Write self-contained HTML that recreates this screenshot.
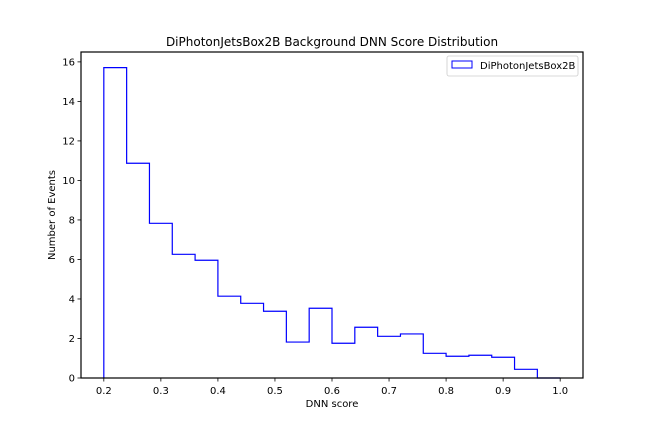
<!DOCTYPE html>
<html><head><meta charset="utf-8"><style>
body{margin:0;background:#fff;}
svg text{font-family:"DejaVu Sans","Liberation Sans",sans-serif;fill:#000;}
</style></head><body>
<svg id="chart" width="648" height="432" xmlns="http://www.w3.org/2000/svg">
<rect width="648" height="432" fill="#fff"/>
<text x="332" y="46" font-size="12" text-anchor="middle">DiPhotonJetsBox2B Background DNN Score Distribution</text>
<g id="plot"></g>
<rect x="81" y="52" width="502" height="326" fill="none" stroke="#000" stroke-width="1.2"/>
<text x="332" y="407" font-size="10" text-anchor="middle">DNN score</text>
<text transform="translate(55,215) rotate(-90)" font-size="10" text-anchor="middle">Number of Events</text>
<g>
<rect x="447" y="56" width="131" height="20" rx="2" fill="#fff" stroke="#ccc" stroke-width="0.8"/>
<rect x="452" y="61" width="20" height="7" fill="none" stroke="#0000ff" stroke-width="1"/>
<text x="480" y="69" font-size="10">DiPhotonJetsBox2B</text>
</g>
</svg>
<script>
const binEdges = [0.2,0.24,0.28,0.32,0.36,0.4,0.44,0.48,0.52,0.56,0.6,0.64,0.68,0.72,0.76,0.8,0.84,0.88,0.92,0.96,1.0];
const counts = [15.71,10.87,7.83,6.26,5.96,4.14,3.78,3.38,1.82,3.53,1.76,2.57,2.11,2.23,1.25,1.1,1.15,1.05,0.44,0];
const xTicks = [0.2,0.3,0.4,0.5,0.6,0.7,0.8,0.9,1.0];
const xTickLabels = ["0.2","0.3","0.4","0.5","0.6","0.7","0.8","0.9","1.0"];
const yTicks = [0,2,4,6,8,10,12,14,16];
const yTickLabels = ["0","2","4","6","8","10","12","14","16"];

const L=81,R=583,T=52,B=378;
const xmin=0.16,xmax=1.04,ymin=0,ymax=16.5;
const sx=v=>L+(v-xmin)/(xmax-xmin)*(R-L);
const sy=v=>B-(v-ymin)/(ymax-ymin)*(B-T);
const NS="http://www.w3.org/2000/svg";
const g=document.getElementById('plot');

let d="M"+sx(binEdges[0])+","+sy(0);
for(let i=0;i<counts.length;i++){
  d+=" L"+sx(binEdges[i])+","+sy(counts[i])+" L"+sx(binEdges[i+1])+","+sy(counts[i]);
}
d+=" L"+sx(binEdges[binEdges.length-1])+","+sy(0);
const p=document.createElementNS(NS,'path');
p.setAttribute('d',d);p.setAttribute('fill','none');p.setAttribute('stroke','#0000ff');p.setAttribute('stroke-width','1.2');


g.appendChild(p);

xTicks.forEach((v,i)=>{
  const x=sx(v);
  const t=document.createElementNS(NS,'line');
  t.setAttribute('x1',x);t.setAttribute('x2',x);t.setAttribute('y1',B);t.setAttribute('y2',B+3.5);t.setAttribute('stroke','#000');t.setAttribute('stroke-width','0.8');
  
  
  g.appendChild(t);
  const tx=document.createElementNS(NS,'text');
  tx.setAttribute('x',x);tx.setAttribute('y',B+16);tx.setAttribute('font-size','10');tx.setAttribute('text-anchor','middle');
  tx.textContent=xTickLabels[i];
  
  
  g.appendChild(tx);
});
yTicks.forEach((v,i)=>{
  const y=sy(v);
  const t=document.createElementNS(NS,'line');
  t.setAttribute('x1',L-3.5);t.setAttribute('x2',L);t.setAttribute('y1',y);t.setAttribute('y2',y);t.setAttribute('stroke','#000');t.setAttribute('stroke-width','0.8');
  
  
  g.appendChild(t);
  const tx=document.createElementNS(NS,'text');
  tx.setAttribute('x',L-6);tx.setAttribute('y',y+3.5);tx.setAttribute('font-size','10');tx.setAttribute('text-anchor','end');
  tx.textContent=yTickLabels[i];
  
  
  g.appendChild(tx);
});
</script>
</body></html>
